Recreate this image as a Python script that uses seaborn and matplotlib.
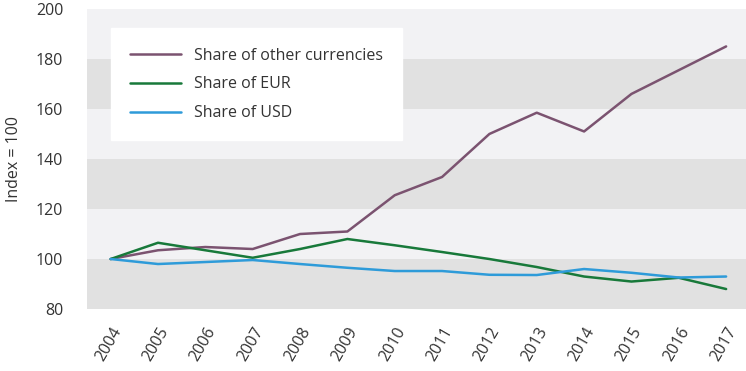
import matplotlib
matplotlib.use("Agg")
import matplotlib.pyplot as plt
import pandas as pd
import seaborn as sns

years = [str(y) for y in range(2004, 2018)]
other = [100, 103.5, 104.8, 104, 110, 111, 125.5, 132.8, 150, 158.5, 151, 166, 175.5, 185]
eur = [100, 106.5, 103.5, 100.5, 104, 108, 105.5, 102.8, 100, 96.8, 93, 91, 92.5, 88]
usd = [100, 98, 98.8, 99.6, 98, 96.5, 95.2, 95.2, 93.7, 93.6, 96, 94.5, 92.6, 93]

series_names = ["Share of other currencies", "Share of EUR", "Share of USD"]
colors = ["#7b5370", "#18793a", "#2e9bd9"]

df = pd.DataFrame({"year": years, series_names[0]: other,
                   series_names[1]: eur, series_names[2]: usd})
long = df.melt(id_vars="year", var_name="series", value_name="index")
long["pos"] = long["year"].map({y: i for i, y in enumerate(years)})

sns.set_style("white")
plt.rcParams["font.family"] = ["Open Sans", "DejaVu Sans"]
fs = 11.5

fig = plt.figure(figsize=(7.46, 3.71), dpi=100)
ax = fig.add_axes([0.1166, 0.167, 0.8834, 0.809])

# alternating grey bands
for lo in range(80, 200, 20):
    c = "#e1e1e1" if (lo // 20) % 2 == 0 else "#f2f2f4"
    ax.axhspan(lo, lo + 20, color=c, zorder=0, lw=0)

sns.lineplot(data=long, x="pos", y="index", hue="series", hue_order=series_names,
             palette=colors, linewidth=1.8, ax=ax, zorder=3)

ax.set_xlim(-0.5, 13.42)
ax.set_ylim(80, 200)
ax.set_yticks(range(80, 201, 20))
ax.set_xticks(range(len(years)))
ax.set_xticklabels(years, rotation=60, ha="right", rotation_mode="anchor")
ax.set_xticks([i - 0.5 for i in range(len(years))], minor=True)
ax.tick_params(axis="x", which="major", length=0, pad=11, labelsize=fs, colors="#333333")
ax.tick_params(axis="x", which="minor", length=7, color="#d0d0d0", width=1)
ax.tick_params(axis="y", length=0, pad=17, labelsize=fs, colors="#333333")
ax.set_xlabel("")
ax.set_ylabel("Index = 100", fontsize=fs, color="#333333", labelpad=10)
for s in ax.spines.values():
    s.set_visible(False)

leg = ax.legend(loc="upper left", bbox_to_anchor=(0.036, 0.935), frameon=True,
                fancybox=False, fontsize=fs, handlelength=3.2, handletextpad=0.8,
                borderpad=1.2, labelspacing=0.8, borderaxespad=0)
leg.get_frame().set_facecolor("white")
leg.get_frame().set_edgecolor("white")
leg.get_frame().set_alpha(1)
for t in leg.get_texts():
    t.set_color("#333333")
for h in leg.get_lines():
    h.set_linewidth(1.8)

fig.savefig("out.png", dpi=100, facecolor="white")
